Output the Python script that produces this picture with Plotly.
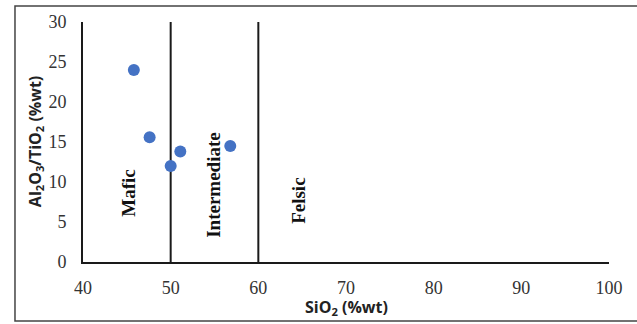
import plotly.graph_objects as go

# Sample compositions
sio2 = [45.8, 47.6, 50.0, 51.1, 56.8]
al_ti_ratio = [24.0, 15.6, 12.0, 13.8, 14.5]

# Rock-type boundaries on SiO2 (%wt)
boundaries = [50, 60]
zone_names = ["Mafic", "Intermediate", "Felsic"]
zone_x = [45.2, 54.9, 64.6]
zone_y = [8.6, 9.6, 7.6]

x_ticks = [40, 50, 60, 70, 80, 90, 100]
y_ticks = [0, 5, 10, 15, 20, 25, 30]

fig = go.Figure()

for b in boundaries:
    fig.add_trace(go.Scatter(
        x=[b, b], y=[0, 30.4], mode="lines",
        line=dict(color="#1a1a1a", width=2), hoverinfo="skip",
        showlegend=False, cliponaxis=False,
    ))

fig.add_trace(go.Scatter(
    x=sio2, y=al_ti_ratio, mode="markers",
    marker=dict(color="#4472C4", size=12),
    showlegend=False, cliponaxis=False,
))

for name, zx, zy in zip(zone_names, zone_x, zone_y):
    fig.add_annotation(
        x=zx, y=zy, text=f"<b>{name}</b>", textangle=-90, showarrow=False,
        font=dict(family="Liberation Serif", size=19, color="#111111"),
    )

fig.add_annotation(
    xref="paper", yref="paper", x=0.5, y=-0.19, yanchor="middle",
    text="<b>SiO<sub>2</sub> (%wt)</b>", showarrow=False,
    font=dict(family="Open Sans", size=16, color="#222222"),
)
fig.add_annotation(
    xref="paper", yref="paper", x=-0.091, y=0.5, xanchor="center",
    text="<b>Al<sub>2</sub>O<sub>3</sub>/TiO<sub>2</sub> (%wt)</b>",
    textangle=-90, showarrow=False,
    font=dict(family="Open Sans", size=16, color="#222222"),
)

# Outer frame around the figure
fig.add_shape(
    type="rect", xref="paper", yref="paper",
    x0=-0.1293, x1=1.07, y0=-0.2458, y1=1.0667,
    line=dict(color="#444444", width=1.5),
)

fig.update_xaxes(
    range=[40, 100], tickvals=x_ticks, showgrid=False, zeroline=False,
    showline=True, linecolor="#1a1a1a", linewidth=2, ticks="",
    ticklabelstandoff=8,
    tickfont=dict(family="Liberation Serif", size=18, color="#333333"),
)
fig.update_yaxes(
    range=[0, 30], tickvals=y_ticks, showgrid=False, zeroline=False,
    showline=True, linecolor="#1a1a1a", linewidth=2, ticks="",
    ticklabelstandoff=11,
    tickfont=dict(family="Liberation Serif", size=18, color="#333333"),
)

fig.update_layout(
    width=637, height=324,
    margin=dict(l=83, r=28, t=22, b=62),
    paper_bgcolor="white", plot_bgcolor="white",
)

fig.write_html("out.html")
